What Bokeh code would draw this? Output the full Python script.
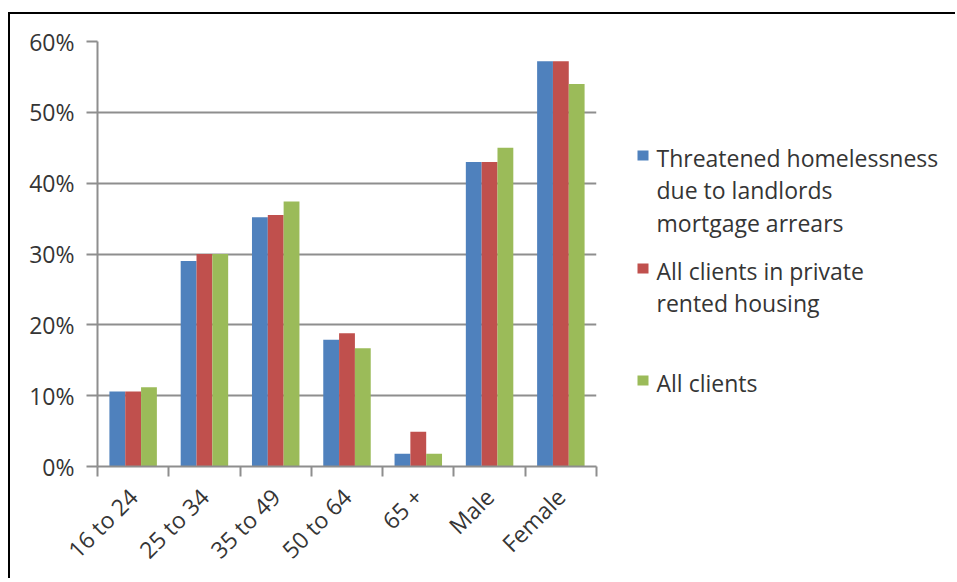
import numpy as np
from bokeh.plotting import figure
from bokeh.layouts import row
from bokeh.models import ColumnDataSource, FixedTicker, NumeralTickFormatter, Range1d
from bokeh.core.properties import value
from bokeh.embed import file_html
from bokeh.resources import INLINE

categories = ["16 to 24", "25 to 34", "35 to 49", "50 to 64", "65 +", "Male", "Female"]
series_names = [
    "Threatened homelessness\ndue to landlords\nmortgage arrears",
    "All clients in private\nrented housing",
    "All clients",
]
threatened = [0.106, 0.290, 0.352, 0.179, 0.018, 0.430, 0.572]
private_rented = [0.106, 0.300, 0.355, 0.188, 0.049, 0.430, 0.572]
all_clients = [0.112, 0.300, 0.374, 0.167, 0.018, 0.450, 0.540]
y_ticks = [0, 0.1, 0.2, 0.3, 0.4, 0.5, 0.6]

colors = ["#4F81BD", "#C0504D", "#9BBB59"]
FONT = "Open Sans"
TXT = "#353535"
GRID = "#8e8e8e"
FS = "23px"

n = len(categories)
centers = np.arange(n) + 0.5
bw = 0.222
offsets = [-bw, 0.0, bw]

BT, BB = 27, 114   # top / bottom borders around the plotting frame

# ---------------- main chart ----------------
p = figure(width=596, height=566, output_backend="svg", toolbar_location=None,
           x_range=Range1d(0, n), y_range=Range1d(0, 0.6),
           min_border_left=87, min_border_top=BT, min_border_bottom=BB,
           min_border_right=10)
p.margin = (12, 0, 0, 8)
p.styles = {"border-top": "2px solid black", "border-left": "2px solid black"}
p.outline_line_color = None
p.background_fill_color = "white"
p.border_fill_color = "white"

for vals, off, col in zip([threatened, private_rented, all_clients], offsets, colors):
    src = ColumnDataSource(dict(x=centers + off, top=vals))
    p.vbar(x="x", top="top", width=bw, bottom=0, source=src,
           fill_color=col, line_color=None)

# y axis
p.yaxis.ticker = FixedTicker(ticks=y_ticks)
p.yaxis.formatter = NumeralTickFormatter(format="0%")
p.yaxis.axis_line_color = GRID
p.yaxis.axis_line_width = 2
p.yaxis.major_tick_line_color = GRID
p.yaxis.major_tick_line_width = 2
p.yaxis.major_tick_out = 11
p.yaxis.major_tick_in = 0
p.yaxis.minor_tick_line_color = None
p.yaxis.major_label_text_font = FONT
p.yaxis.major_label_text_font_size = FS
p.yaxis.major_label_text_color = TXT
p.yaxis.major_label_standoff = 12

# x axis: labels at centers, ticks at category boundaries
p.xaxis.ticker = FixedTicker(ticks=list(centers), minor_ticks=list(range(n + 1)))
p.xaxis.major_label_overrides = {float(c): lab for c, lab in zip(centers, categories)}
p.xaxis.major_label_orientation = np.pi / 4
p.xaxis.major_tick_line_color = None
p.xaxis.minor_tick_line_color = GRID
p.xaxis.minor_tick_line_width = 2
p.xaxis.minor_tick_out = 10
p.xaxis.minor_tick_in = 0
p.xaxis.axis_line_color = GRID
p.xaxis.axis_line_width = 2
p.xaxis.major_label_text_font = FONT
p.xaxis.major_label_text_font_size = FS
p.xaxis.major_label_text_color = TXT
p.xaxis.major_label_standoff = 16

p.xgrid.grid_line_color = None
p.ygrid.ticker = FixedTicker(ticks=y_ticks)
p.ygrid.grid_line_color = GRID
p.ygrid.grid_line_width = 2

# ---------------- legend panel ----------------
LW, LH = 351, 566
FH = LH - BT - BB          # frame height, pixel coordinates from frame top
leg = figure(width=LW, height=LH, output_backend="svg", toolbar_location=None,
             x_range=Range1d(0, LW), y_range=Range1d(FH, 0),
             x_axis_type=None, y_axis_type=None,
             min_border_left=0, min_border_right=0,
             min_border_top=BT, min_border_bottom=BB)
leg.margin = (12, 0, 0, 0)
leg.styles = {"border-top": "2px solid black"}
leg.outline_line_color = None
leg.xgrid.grid_line_color = None
leg.ygrid.grid_line_color = None
leg.background_fill_color = "white"
leg.border_fill_color = "white"

# layout (pixel positions inside the legend frame)
entry_first_line = [116, 229, 341]
line_pitch = 32.5
glyph_x, text_x = 38.5, 52

sq = dict(x=[], y=[], color=[])
tx = dict(x=[], y=[], text=[])
for name, col, y0 in zip(series_names, colors, entry_first_line):
    sq["x"].append(glyph_x)
    sq["y"].append(y0 - 2)
    sq["color"].append(col)
    for k, line in enumerate(name.split("\n")):
        tx["x"].append(text_x)
        tx["y"].append(y0 + k * line_pitch)
        tx["text"].append(line)

leg.rect(x="x", y="y", width=11, height=10, width_units="screen", height_units="screen",
         fill_color="color", line_color=None, source=ColumnDataSource(sq))
leg.text(x="x", y="y", text="text", source=ColumnDataSource(tx),
         text_font=value(FONT), text_font_size=FS, text_color=TXT,
         text_baseline="middle", text_align="left")

layout = row(p, leg, spacing=0)
open("out.html", "w").write(file_html(layout, INLINE))
